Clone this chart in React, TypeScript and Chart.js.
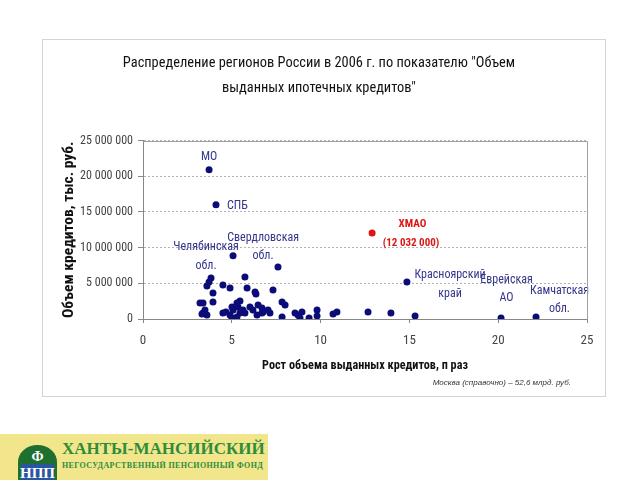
import React, { useEffect, useRef } from "react";
import { Chart, registerables } from "chart.js";

Chart.register(...registerables);

// ---------- data ----------
const TITLE = [
  'Распределение регионов России в 2006 г. по показателю "Объем',
  'выданных ипотечных кредитов"',
];
const X_TITLE = "Рост объема выданных кредитов, п раз";
const Y_TITLE = "Объем кредитов, тыс. руб.";
const NOTE = "Москва (справочно) – 52,6 млрд. руб.";

const X_MIN = 0;
const X_MAX = 25;
const X_STEP = 5;
const Y_MIN = 0;
const Y_MAX = 25000000;
const Y_STEP = 5000000;

// growth (times)
const growthX = [
  3.72, 4.11, 5.07, 7.6, 3.83, 3.72, 3.6, 5.74, 4.5, 4.9,
  5.86, 6.31, 6.36, 3.94, 7.32, 3.94, 3.21, 3.38, 3.49, 3.38,
  3.6, 3.32, 7.83, 8.0, 4.5, 4.67, 5.01, 5.07, 5.46, 5.29,
  5.35, 5.63, 5.74, 4.9, 5.01, 6.02, 6.19, 6.48, 6.7, 6.76,
  7.04, 7.15, 6.7, 7.83, 6.42, 5.29, 5.46, 8.56, 8.73, 8.95,
  8.84, 9.35, 9.8, 9.8, 10.7, 10.92, 12.67, 13.96, 15.32, 14.86,
  20.16, 22.13,
];
// volume of credits (thousand roubles)
const volumeY = [
  20900000, 16000000, 8850000, 7300000, 5760000, 5200000, 4630000, 5900000, 4780000, 4350000,
  4350000, 3790000, 3510000, 3650000, 4070000, 2390000, 2250000, 2250000, 1260000, 840000,
  560000, 700000, 2390000, 1970000, 840000, 980000, 1690000, 1260000, 2530000, 2250000,
  1690000, 1260000, 840000, 560000, 140000, 1690000, 1260000, 1970000, 1540000, 980000,
  1260000, 840000, 840000, 280000, 560000, 280000, 840000, 840000, 560000, 980000,
  140000, 140000, 1260000, 420000, 700000, 980000, 980000, 840000, 420000, 5200000,
  140000, 280000,
];

// ХМАО
const hmaoX = [12.9];
const hmaoY = [12032000];

// region labels (anchored in data units)
const labelText = [
  "МО", "СПБ", "Челябинская", "обл.", "Свердловская", "обл.",
  "Красноярский", "край", "Еврейская", "АО", "Камчатская", "обл.",
];
const labelX = [3.72, 5.32, 3.55, 3.55, 6.76, 6.76, 17.29, 17.29, 20.47, 20.47, 23.45, 23.45];
const labelY = [
  22750000, 15870000, 10100000, 7440000, 11400000, 8850000,
  6200000, 3500000, 5500000, 2950000, 3900000, 1400000,
];
const hmaoLabelText = ["ХМАО", "(12 032 000)"];
const hmaoLabelX = [15.17, 15.09];
const hmaoLabelY = [13340000, 10670000];

// ---------- styles ----------
const FAMILY = "Roboto, 'DejaVu Sans Condensed', sans-serif";
const font = (size: number, bold = false, lineHeight = 1.2) => ({
  family: FAMILY,
  size,
  weight: bold ? "bold condensed" : "condensed",
  lineHeight,
});
const NAVY = "#0c0c78";
const RED = "#dd1515";
const LABEL_BLUE = "#35358c";

const fmt = (v: number) => String(v).replace(/\B(?=(\d{3})+(?!\d))/g, " ");

const labelsPlugin = {
  id: "regionLabels",
  afterDatasetsDraw(chart: any) {
    const { ctx, scales } = chart;
    const xs = scales.x;
    const ys = scales.y;
    ctx.save();
    ctx.textAlign = "center";
    ctx.textBaseline = "middle";
    ctx.fillStyle = LABEL_BLUE;
    ctx.font = `condensed 12px ${FAMILY}`;
    labelText.forEach((t, i) => {
      ctx.fillText(t, xs.getPixelForValue(labelX[i]), ys.getPixelForValue(labelY[i]));
    });
    ctx.fillStyle = RED;
    ctx.font = `bold condensed 11px ${FAMILY}`;
    hmaoLabelText.forEach((t, i) => {
      ctx.fillText(t, xs.getPixelForValue(hmaoLabelX[i]), ys.getPixelForValue(hmaoLabelY[i]));
    });
    ctx.restore();
  },
};

const framePlugin = {
  id: "plotFrame",
  afterDraw(chart: any) {
    const { ctx, chartArea } = chart;
    ctx.save();
    ctx.strokeStyle = "#a0a0a0";
    ctx.lineWidth = 1;
    ctx.beginPath();
    ctx.moveTo(Math.round(chartArea.left) + 0.5, Math.round(chartArea.top) + 0.5);
    ctx.lineTo(Math.round(chartArea.right) + 0.5, Math.round(chartArea.top) + 0.5);
    ctx.lineTo(Math.round(chartArea.right) + 0.5, Math.round(chartArea.bottom) + 0.5);
    ctx.stroke();
    ctx.restore();
  },
};

function ScatterChart() {
  const ref = useRef<HTMLCanvasElement | null>(null);
  useEffect(() => {
    if (!ref.current) return;
    const chart = new Chart(ref.current, {
      type: "scatter",
      data: {
        datasets: [
          {
            label: "Регионы",
            data: growthX.map((x, i) => ({ x, y: volumeY[i] })),
            backgroundColor: NAVY,
            borderColor: NAVY,
            pointRadius: 3.5,
            pointBorderWidth: 0,
          },
          {
            label: "ХМАО",
            data: hmaoX.map((x, i) => ({ x, y: hmaoY[i] })),
            backgroundColor: RED,
            borderColor: RED,
            pointRadius: 3.5,
            pointBorderWidth: 0,
          },
        ],
      },
      options: {
        animation: false,
        responsive: false,
        maintainAspectRatio: false,
        layout: { padding: { left: 8, right: 18, top: 0, bottom: 0 } },
        plugins: {
          legend: { display: false },
          tooltip: { enabled: false },
          title: {
            display: true,
            text: TITLE,
            color: "#111",
            font: font(14.4, false, 1.72),
            padding: { top: 11.5, bottom: 39.5 },
          },
        },
        scales: {
          x: {
            type: "linear",
            min: X_MIN,
            max: X_MAX,
            ticks: {
              stepSize: X_STEP,
              color: "#444",
              font: font(13),
              padding: 10,
            },
            grid: {
              drawOnChartArea: false,
              drawTicks: true,
              tickLength: 4,
              tickColor: "#888",
              color: "#888",
            },
            border: { display: true, color: "#888" },
            title: {
              display: true,
              text: X_TITLE,
              color: "#111",
              font: font(12.2, true),
              padding: { top: 0, bottom: 23 },
            },
            afterFit: (s: any) => {
              s.height = 77;
            },
          },
          y: {
            type: "linear",
            min: Y_MIN,
            max: Y_MAX,
            ticks: {
              stepSize: Y_STEP,
              color: "#444",
              font: font(12),
              padding: 5,
              callback: (v: any) => fmt(Number(v)),
            },
            grid: {
              color: "#b0b0b0",
              drawTicks: true,
              tickLength: 5,
              tickColor: "#888",
            },
            border: { display: true, color: "#888", dash: [2, 2] },
            title: {
              display: true,
              text: Y_TITLE,
              color: "#111",
              font: font(15.5, true),
              padding: { top: 9, bottom: 0 },
            },
            afterFit: (s: any) => {
              s.width = 92;
            },
          },
        },
      },
      plugins: [labelsPlugin, framePlugin],
    });
    return () => chart.destroy();
  }, []);
  return <canvas ref={ref} width={562} height={356} style={{ display: "block", width: 562, height: 356 }} />;
}

function Logo() {
  return (
    <div
      style={{
        position: "absolute",
        left: 0,
        top: 434,
        width: 268,
        height: 46,
        background: "#f2e68c",
        overflow: "hidden",
      }}
    >
      <svg width={60} height={46} style={{ position: "absolute", left: 0, top: 0 }}>
        <path d="M18 46 L18 28 A19.5 17 0 0 1 57 28 L57 46 Z" fill="#1f6f2f" />
        <rect x={21} y={30} width={33} height={16} fill="#2a55a0" />
        <text x={37.5} y={44} textAnchor="middle" fill="#ffffff" fontFamily="'Liberation Serif', serif" fontWeight="bold" fontSize={15}>
          НПП
        </text>
        <text x={37.5} y={27} textAnchor="middle" fill="#ffffff" fontFamily="'Liberation Serif', serif" fontWeight="bold" fontSize={14}>
          Ф
        </text>
      </svg>
      <div
        style={{
          position: "absolute",
          left: 62,
          top: 5,
          color: "#2f8c3a",
          fontFamily: "'Liberation Serif', serif",
          fontWeight: "bold",
          fontSize: 17,
          whiteSpace: "nowrap",
        }}
      >
        ХАНТЫ-МАНСИЙСКИЙ
      </div>
      <div
        style={{
          position: "absolute",
          left: 62,
          top: 27,
          color: "#2f8c3a",
          fontFamily: "'Liberation Serif', serif",
          fontWeight: "bold",
          fontSize: 8,
          whiteSpace: "nowrap",
          letterSpacing: 0.35,
        }}
      >
        НЕГОСУДАРСТВЕННЫЙ ПЕНСИОННЫЙ ФОНД
      </div>
    </div>
  );
}

export default function App() {
  useEffect(() => {
    document.body.style.margin = "0";
    document.body.style.background = "#ffffff";
  }, []);
  return (
    <div style={{ position: "relative", width: 640, height: 480, background: "#fff", overflow: "hidden" }}>
      <div
        style={{
          position: "absolute",
          left: 42,
          top: 39,
          width: 562,
          height: 356,
          border: "1px solid #d4d4d4",
          background: "#fff",
        }}
      >
        <ScatterChart />
        <div
          style={{
            position: "absolute",
            right: 34,
            top: 338,
            fontFamily: "'Liberation Sans', Arial, sans-serif",
            fontStyle: "italic",
            fontSize: 8,
            color: "#333",
            whiteSpace: "nowrap",
          }}
        >
          {NOTE}
        </div>
      </div>
      <Logo />
    </div>
  );
}
